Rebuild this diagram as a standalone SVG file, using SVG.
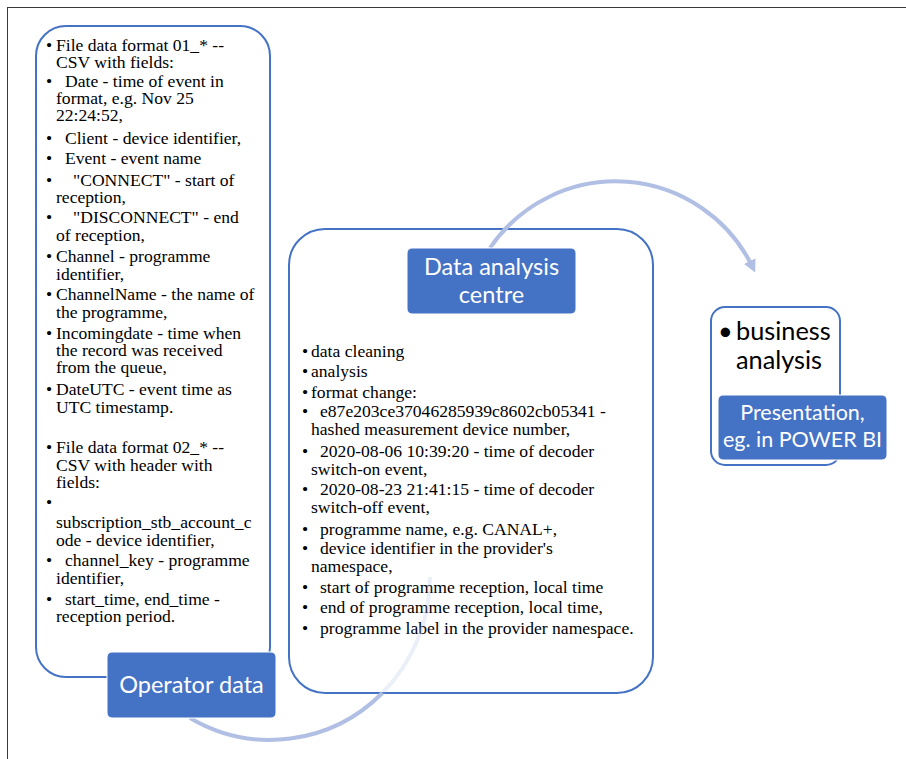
<svg xmlns="http://www.w3.org/2000/svg" width="906" height="759" viewBox="0 0 906 759">
<style>
.frame{fill:none;stroke:#3a3a3a;stroke-width:1}
.panel{fill:#fff;stroke:#4472C4;stroke-width:2}
.label{fill:#4472C4;stroke:#fff;stroke-width:1}
.lt{font-family:Lato,"Open Sans",sans-serif;fill:#fff;text-anchor:middle}
.body{font-family:"Liberation Serif","Times New Roman",serif;font-size:17.6px;fill:#000}
.big{font-family:Lato,"Open Sans",sans-serif;font-size:25.3px;fill:#000}
.arc{fill:none;stroke:#B0BFE3;stroke-width:4}
</style>
<defs>
<marker id="ah" viewBox="0 0 10 10" refX="6" refY="5" markerWidth="3.2" markerHeight="3.2" orient="auto" markerUnits="strokeWidth">
<path d="M0,0 L10,5 L0,10 z" fill="#B0BFE3"/>
</marker>
</defs>
<rect class="frame" x="7.5" y="7.5" width="910" height="770"/>

<g id="operator-panel">
<rect class="panel" x="36" y="26" width="234" height="651" rx="30"/>
<g class="body">
<text x="46" y="51">•</text><text x="56" y="51">File data format 01_* --</text>
<text x="56" y="68">CSV with fields:</text>
<text x="46" y="87">•</text><text x="65" y="87">Date - time of event in</text>
<text x="56" y="104">format, e.g. Nov 25</text>
<text x="56" y="121">22:24:52,</text>
<text x="46" y="144">•</text><text x="65" y="144">Client - device identifier,</text>
<text x="46" y="164">•</text><text x="65" y="164">Event - event name</text>
<text x="46" y="186">•</text><text x="73" y="186">"CONNECT" - start of</text>
<text x="56" y="203">reception,</text>
<text x="46" y="223">•</text><text x="73" y="223">"DISCONNECT" - end</text>
<text x="56" y="241">of reception,</text>
<text x="46" y="262">•</text><text x="56" y="262">Channel - programme</text>
<text x="56" y="280">identifier,</text>
<text x="46" y="300">•</text><text x="56" y="300">ChannelName - the name of</text>
<text x="56" y="318">the programme,</text>
<text x="46" y="339">•</text><text x="56" y="339">Incomingdate - time when</text>
<text x="56" y="356">the record was received</text>
<text x="56" y="373">from the queue,</text>
<text x="46" y="395">•</text><text x="56" y="395">DateUTC - event time as</text>
<text x="56" y="413">UTC timestamp.</text>
<text x="46" y="453">•</text><text x="56" y="453">File data format 02_* --</text>
<text x="56" y="471">CSV with header with</text>
<text x="56" y="488">fields:</text>
<text x="46" y="508">•</text>
<text x="56" y="528">subscription_stb_account_c</text>
<text x="56" y="546">ode - device identifier,</text>
<text x="46" y="566">•</text><text x="65" y="566">channel_key - programme</text>
<text x="56" y="584">identifier,</text>
<text x="46" y="605">•</text><text x="65" y="605">start_time, end_time -</text>
<text x="56" y="622">reception period.</text>
</g>
</g>

<g id="analysis-panel">
<rect class="panel" x="289" y="229" width="364" height="464" rx="36"/>
<g class="body">
<text x="302" y="357">•</text><text x="311" y="357">data cleaning</text>
<text x="302" y="377">•</text><text x="311" y="377">analysis</text>
<text x="302" y="398">•</text><text x="311" y="398">format change:</text>
<text x="302" y="417">•</text><text x="320" y="417">e87e203ce37046285939c8602cb05341 -</text>
<text x="311" y="435">hashed measurement device number,</text>
<text x="302" y="457">•</text><text x="320" y="457">2020-08-06 10:39:20 - time of decoder</text>
<text x="311" y="475">switch-on event,</text>
<text x="302" y="495">•</text><text x="320" y="495">2020-08-23 21:41:15 - time of decoder</text>
<text x="311" y="513">switch-off event,</text>
<text x="302" y="535">•</text><text x="320" y="535">programme name, e.g. CANAL+,</text>
<text x="302" y="554">•</text><text x="320" y="554">device identifier in the provider's</text>
<text x="311" y="572">namespace,</text>
<text x="302" y="593">•</text><text x="320" y="593">start of programme reception, local time</text>
<text x="302" y="613">•</text><text x="320" y="613">end of programme reception, local time,</text>
<text x="302" y="634">•</text><text x="320" y="634">programme label in the provider namespace.</text>
</g>
</g>

<g id="business-panel">
<rect class="panel" x="711" y="307" width="129" height="158" rx="14"/>
<text class="big" x="718" y="340">•</text>
<text class="big" x="736" y="340">business</text>
<text class="big" x="736" y="369">analysis</text>
</g>

<g id="connectors">
<path class="arc" d="M190,718 A160,163 0 0 0 382.4,693"/>
<path class="arc" d="M382.4,693 A160,163 0 0 0 430,577" opacity="0.25"/>
<path class="arc" d="M490,248 A152,152 0 0 1 753,268" marker-end="url(#ah)"/>
</g>

<g id="operator-data">
<rect class="label" x="107" y="652" width="169" height="66" rx="5"/>
<text class="lt" x="191.5" y="693" font-size="23.5">Operator data</text>
</g>

<g id="data-analysis-centre">
<rect class="label" x="407" y="248" width="169" height="66" rx="5"/>
<text class="lt" x="491.5" y="275" font-size="23.5">Data analysis</text>
<text class="lt" x="491.5" y="303" font-size="23.5">centre</text>
</g>

<g id="presentation">
<rect class="label" x="718" y="395" width="169" height="65" rx="5"/>
<text class="lt" x="802.5" y="420" font-size="21.5">Presentation,</text>
<text class="lt" x="802.5" y="447" font-size="21.5">eg. in POWER BI</text>
</g>
</svg>
